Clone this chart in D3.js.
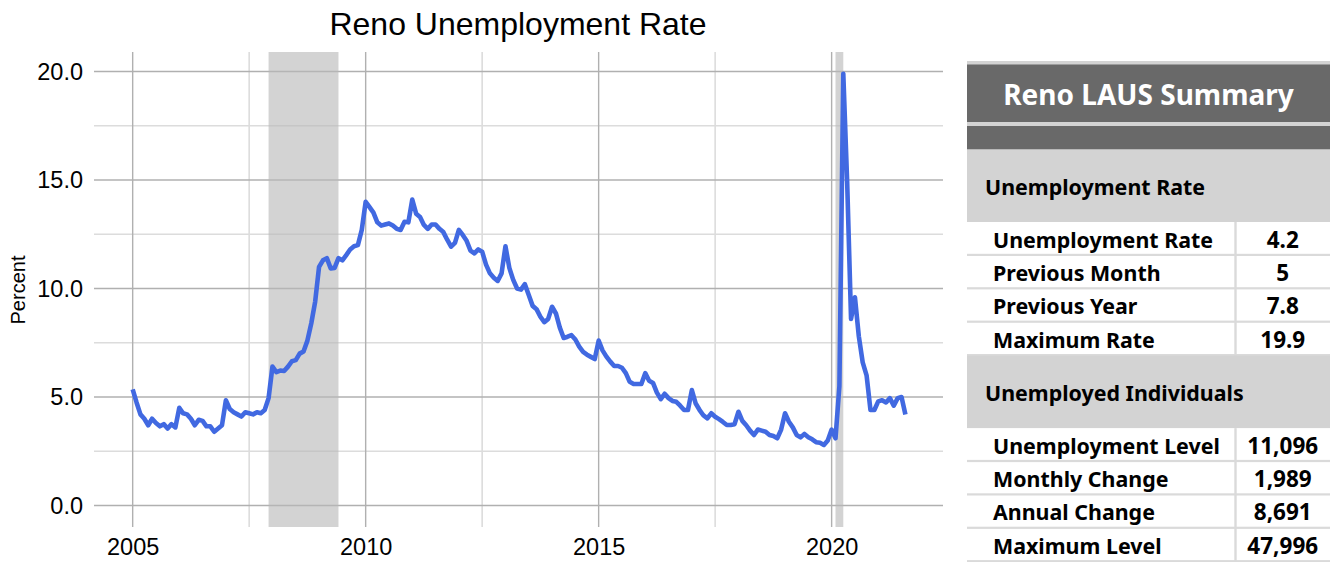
<!DOCTYPE html>
<html><head><meta charset="utf-8">
<title>Reno Unemployment Rate</title>
<script src="https://cdn.jsdelivr.net/npm/d3@7"></script>
<style>
  body { margin:0; background:#fff; }
  svg { display:block; }
</style>
</head><body>
<svg id="chart" width="1335" height="562"></svg>
<script>
// monthly unemployment rate, Reno, Jan 2005 - Aug 2021
const START_YEAR = 2005;
const rate2005 = [5.35, 4.75, 4.2, 4.0, 3.7, 4.0, 3.8, 3.65, 3.75, 3.55, 3.75, 3.6];
const rate2006 = [4.5, 4.25, 4.2, 4.0, 3.7, 3.95, 3.9, 3.65, 3.65, 3.4, 3.55, 3.7];
const rate2007 = [4.85, 4.45, 4.3, 4.2, 4.1, 4.3, 4.25, 4.2, 4.3, 4.25, 4.4, 4.95];
const rate2008 = [6.4, 6.15, 6.22, 6.2, 6.4, 6.65, 6.7, 7.0, 7.1, 7.6, 8.4, 9.4];
const rate2009 = [11.0, 11.3, 11.4, 10.93, 10.95, 11.4, 11.3, 11.54, 11.8, 11.95, 12.0, 12.7];
const rate2010 = [14.0, 13.75, 13.5, 13.05, 12.9, 12.95, 13.0, 12.9, 12.75, 12.7, 13.08, 13.05];
const rate2011 = [14.1, 13.45, 13.3, 12.93, 12.75, 12.95, 12.95, 12.75, 12.6, 12.25, 11.93, 12.1];
const rate2012 = [12.7, 12.47, 12.2, 11.75, 11.62, 11.8, 11.7, 11.1, 10.7, 10.5, 10.35, 10.7];
const rate2013 = [11.95, 10.95, 10.4, 10.0, 9.95, 10.2, 9.7, 9.2, 9.05, 8.7, 8.45, 8.6];
const rate2014 = [9.16, 8.85, 8.2, 7.72, 7.78, 7.85, 7.65, 7.32, 7.08, 6.95, 6.85, 6.75];
const rate2015 = [7.6, 7.15, 6.86, 6.63, 6.43, 6.43, 6.35, 6.1, 5.7, 5.6, 5.6, 5.6];
const rate2016 = [6.1, 5.75, 5.65, 5.2, 4.9, 5.15, 4.95, 4.82, 4.78, 4.6, 4.4, 4.4];
const rate2017 = [5.32, 4.7, 4.4, 4.15, 4.02, 4.25, 4.09, 3.98, 3.85, 3.71, 3.71, 3.75];
const rate2018 = [4.32, 3.9, 3.7, 3.45, 3.25, 3.5, 3.45, 3.4, 3.25, 3.2, 3.1, 3.5];
const rate2019 = [4.25, 3.86, 3.6, 3.25, 3.14, 3.3, 3.15, 3.05, 2.92, 2.89, 2.79, 3.0];
const rate2020 = [3.5, 3.1, 5.5, 19.9, 14.9, 8.6, 9.6, 7.8, 6.6, 6.0, 4.4, 4.4];
const rate2021 = [4.8, 4.85, 4.75, 4.95, 4.6, 4.95, 5.0, 4.2];

const monthlyRate = [].concat(rate2005, rate2006, rate2007, rate2008, rate2009,
  rate2010, rate2011, rate2012, rate2013, rate2014, rate2015, rate2016,
  rate2017, rate2018, rate2019, rate2020, rate2021);

// shaded recessions: Dec 2007 - Jun 2009, Feb 2020 - Apr 2020
const recessions = [[2007 + 11 / 12, 2009 + 5 / 12], [2020 + 1 / 12, 2020 + 3 / 12]];

const xMajorTicks = [2005, 2010, 2015, 2020];
const xMinorTicks = [2007.5, 2012.5, 2017.5];
const yMajorTicks = [0, 5, 10, 15, 20];
const yMinorTicks = [2.5, 7.5, 12.5, 17.5];

const tableTitle = "Reno LAUS Summary";
const rateSection = "Unemployment Rate";
const rateRows = [["Unemployment Rate", "4.2"], ["Previous Month", "5"], ["Previous Year", "7.8"], ["Maximum Rate", "19.9"]];
const levelSection = "Unemployed Individuals";
const levelRows = [["Unemployment Level", "11,096"], ["Monthly Change", "1,989"], ["Annual Change", "8,691"], ["Maximum Level", "47,996"]];

const svg = d3.select("#chart");
const chartFont = "'Liberation Sans', Arial, sans-serif";
const tableFont = "'Noto Sans', 'Open Sans', sans-serif";

const points = monthlyRate.map((v, i) => ({ t: START_YEAR + i / 12, v }));

const x = d3.scaleLinear().domain([2004.17, 2022.39]).range([94, 943]);
const y = d3.scaleLinear().domain([-0.99, 20.9]).range([527, 52]);

// grid
const grid = svg.append("g");
grid.selectAll(".ymin").data(yMinorTicks).join("line")
  .attr("x1", x.range()[0]).attr("x2", x.range()[1])
  .attr("y1", d => y(d)).attr("y2", d => y(d))
  .attr("stroke", "#dcdcdc").attr("stroke-width", 1.6);
grid.selectAll(".xmin").data(xMinorTicks).join("line")
  .attr("x1", d => x(d)).attr("x2", d => x(d))
  .attr("y1", y.range()[0]).attr("y2", y.range()[1])
  .attr("stroke", "#dcdcdc").attr("stroke-width", 1.6);
grid.selectAll(".ymaj").data(yMajorTicks).join("line")
  .attr("x1", x.range()[0]).attr("x2", x.range()[1])
  .attr("y1", d => y(d)).attr("y2", d => y(d))
  .attr("stroke", "#b0b0b0").attr("stroke-width", 1.4);
grid.selectAll(".xmaj").data(xMajorTicks).join("line")
  .attr("x1", d => x(d)).attr("x2", d => x(d))
  .attr("y1", y.range()[0]).attr("y2", y.range()[1])
  .attr("stroke", "#b0b0b0").attr("stroke-width", 1.4);

// recession bands
svg.append("g").selectAll("rect").data(recessions).join("rect")
  .attr("x", d => x(d[0])).attr("width", d => x(d[1]) - x(d[0]))
  .attr("y", y.range()[1]).attr("height", y.range()[0] - y.range()[1])
  .attr("fill", "#b8b8b8").attr("opacity", 0.62);

// series
svg.append("path").datum(points)
  .attr("fill", "none").attr("stroke", "#4169e1").attr("stroke-width", 4.6)
  .attr("stroke-linejoin", "round").attr("stroke-linecap", "butt")
  .attr("d", d3.line().x(d => x(d.t)).y(d => y(d.v)));

// axes labels (no domain / tick marks, only text)
const yAxis = svg.append("g").attr("transform", "translate(83,0)")
  .call(d3.axisLeft(y).tickValues(yMajorTicks).tickFormat(d3.format(".1f")).tickSize(0).tickPadding(0));
const xAxis = svg.append("g").attr("transform", "translate(0,538)")
  .call(d3.axisBottom(x).tickValues(xMajorTicks).tickFormat(d3.format("d")).tickSize(0).tickPadding(0));
[yAxis, xAxis].forEach(a => {
  a.select(".domain").remove();
  a.selectAll("text").attr("fill", "#000").style("font-family", chartFont).style("font-size", "23.5px");
});
xAxis.selectAll("text").attr("dy", "0.71em");

svg.append("text").attr("transform", "translate(25,290) rotate(-90)")
  .attr("text-anchor", "middle").style("font-family", chartFont).style("font-size", "20px")
  .text("Percent");

svg.append("text").attr("x", 518).attr("y", 35).attr("text-anchor", "middle")
  .style("font-family", chartFont).style("font-size", "32px").text("Reno Unemployment Rate");

// summary table
const tx0 = 967, tx1 = 1330, colX = 1235.5, rowH = 33.4;
const tbl = svg.append("g").style("font-family", tableFont).style("font-weight", 700);
const dark = "#696969", light = "#d3d3d3";

tbl.append("rect").attr("x", tx0).attr("y", 61).attr("width", tx1 - tx0).attr("height", 89).attr("fill", light);
tbl.append("rect").attr("x", tx0).attr("y", 64.5).attr("width", tx1 - tx0).attr("height", 57.5).attr("fill", dark);
tbl.append("rect").attr("x", tx0).attr("y", 126).attr("width", tx1 - tx0).attr("height", 23.5).attr("fill", dark);
tbl.append("text").attr("x", (tx0 + tx1) / 2).attr("y", 105).attr("text-anchor", "middle")
  .attr("fill", "#fff").style("font-size", "28px").text(tableTitle);

function section(top, title, rows) {
  tbl.append("rect").attr("x", tx0).attr("y", top).attr("width", tx1 - tx0).attr("height", 72.5).attr("fill", light);
  tbl.append("text").attr("x", 985).attr("y", top + 45).attr("fill", "#000")
    .style("font-size", "21.4px").text(title);
  const r0 = top + 72.5;
  const g = tbl.append("g");
  g.selectAll(".sep").data(rows).join("rect")
    .attr("x", tx0).attr("width", tx1 - tx0)
    .attr("y", (d, i) => r0 + (i + 1) * rowH - 1.6).attr("height", 2.2).attr("fill", "#dadada");
  g.append("rect").attr("x", colX - 1.2).attr("width", 2.4).attr("y", r0)
    .attr("height", rows.length * rowH).attr("fill", "#dadada");
  g.selectAll(".lab").data(rows).join("text")
    .attr("x", 993).attr("y", (d, i) => r0 + i * rowH + 25.5).attr("fill", "#000")
    .style("font-size", "21.4px").text(d => d[0]);
  g.selectAll(".val").data(rows).join("text")
    .attr("x", (colX + tx1) / 2).attr("y", (d, i) => r0 + i * rowH + 25.5).attr("text-anchor", "middle")
    .attr("fill", "#000").style("font-size", "22.5px").text(d => d[1]);
  return r0 + rows.length * rowH;
}
const next = section(149.5, rateSection, rateRows);
section(next, levelSection, levelRows);
</script>
</body></html>
